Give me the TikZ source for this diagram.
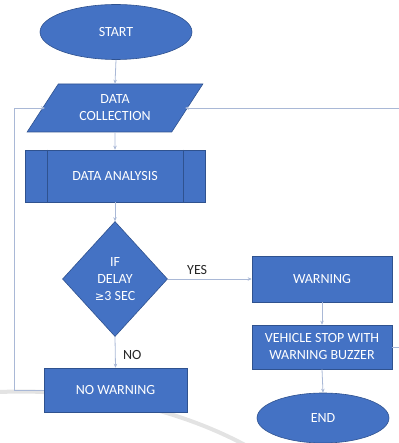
\documentclass[tikz,border=0pt]{standalone}
\usepackage{fontspec}
\setmainfont{Carlito}
\usetikzlibrary{shapes.geometric,arrows.meta,calc}
\definecolor{boxblue}{HTML}{4472C4}
\definecolor{boxedge}{HTML}{2F528F}
\definecolor{linkc}{HTML}{A9B8D6}
\begin{document}
\begin{tikzpicture}[x=1pt,y=-1pt,
  blk/.style={fill=boxblue,draw=boxedge,line width=0.6pt,text=white,font=\fontsize{14}{17}\selectfont,align=center,inner sep=0pt},
  rectbox/.style={blk,rectangle,minimum width=140pt,minimum height=46pt},
  ovalbox/.style={blk,ellipse},
  link/.style={draw=linkc,line width=0.8pt,-{Stealth[length=4pt,width=3.5pt]}},
  lbl/.style={font=\fontsize{14}{17}\selectfont,text=black!85}]
\useasboundingbox (0,0) rectangle (398,443);
% background swoosh
\draw[gray!22,line width=4pt] (0,392) .. controls (90,388) and (180,410) .. (245,445);
% nodes
\node[ovalbox,minimum width=152pt,minimum height=55pt] (start) at (116,32) {START};
\node[blk,trapezium,trapezium left angle=53.13,trapezium right angle=126.87,
      minimum width=176pt,minimum height=48pt,trapezium stretches=true] (coll) at (115,108) {DATA\\COLLECTION};
\node[rectbox,minimum width=180pt,minimum height=52pt] (anal) at (115,176) {DATA ANALYSIS};
\draw[boxedge,line width=0.6pt] ($(anal.north west)+(23,0)$) -- ($(anal.south west)+(23,0)$);
\draw[boxedge,line width=0.6pt] ($(anal.north east)+(-22,0)$) -- ($(anal.south east)+(-22,0)$);
\node[blk,diamond,minimum width=105pt,minimum height=115pt] (dec) at (115,279) {IF\\DELAY\\{\fontspec{DejaVu Sans}\fontsize{11.5}{17}\selectfont ≥}3 SEC};
\node[rectbox] (warn) at (322,279) {WARNING};
\node[rectbox,minimum height=44pt] (veh) at (322,347) {VEHICLE STOP WITH\\WARNING BUZZER};
\node[ovalbox,minimum width=132pt,minimum height=50pt] (end) at (323,418) {END};
\node[rectbox,minimum width=143pt,minimum height=44pt] (nowarn) at (115.5,390) {NO WARNING};
% connectors
\draw[link] (start.south) -- (coll.north);
\draw[link] (coll.south) -- (anal.north);
\draw[link] (anal.south) -- (dec.north);
\draw[link] (dec.east) -- node[lbl,above=1pt,pos=0.35] (yes) {YES} (warn.west);
\draw[link] (dec.south) -- node[lbl,right=4pt,pos=0.6] (no) {NO} (nowarn.north);
\draw[link] (warn.south) -- (veh.north);
\draw[link] (veh.south) -- (end.north);
\coordinate (lb) at (14,390);
\coordinate (lt) at (14,108);
\coordinate (rb) at (410,347);
\coordinate (rt) at (410,108);
\draw[link] (nowarn.west) -- (lb) -- (lt) -- (45,108);
\draw[link] (veh.east) -- (rb) -- (rt) -- (185,108);
\end{tikzpicture}
\end{document}
